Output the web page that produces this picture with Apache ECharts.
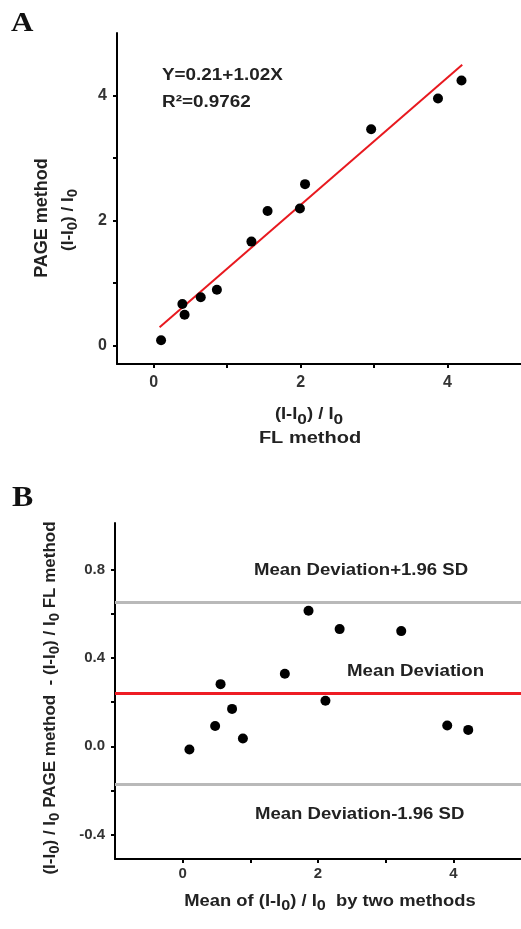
<!DOCTYPE html>
<html>
<head>
<meta charset="utf-8">
<script src="https://cdn.jsdelivr.net/npm/echarts@6/dist/echarts.min.js"></script>
<style>html,body{margin:0;padding:0;background:#fff;}#c{width:521px;height:929px;}</style>
</head>
<body>
<div id="c"></div>
<script>
// Panel A: PAGE vs FL
const flValues   = [0.10, 0.39, 0.42, 0.64, 0.86, 1.33, 1.55, 1.99, 2.06, 2.96, 3.87, 4.19];
const pageValues = [0.08, 0.66, 0.49, 0.77, 0.89, 1.66, 2.15, 2.19, 2.58, 3.46, 3.95, 4.24];
const fitLineX = [0.08, 4.20];
const fitLineY = [0.29, 4.49];
const aTicksX = [0, 1, 2, 3, 4];
const aLabelsX = [0, 2, 4];
const aTicksY = [0, 1, 2, 3, 4];
const aLabelsY = [0, 2, 4];
// Panel B: Bland-Altman
const meanValues = [0.10, 0.48, 0.56, 0.73, 0.89, 1.51, 1.86, 2.11, 2.32, 3.23, 3.91, 4.22];
const diffValues = [-0.015, 0.092, 0.281, 0.169, 0.035, 0.328, 0.613, 0.206, 0.530, 0.521, 0.094, 0.074];
const meanDeviation = 0.242;
const upperLimit = 0.652;
const lowerLimit = -0.172;
const bTicksX = [0, 1, 2, 3, 4];
const bLabelsX = [0, 2, 4];
const bTicksY = [-0.4, -0.2, 0, 0.2, 0.4, 0.6, 0.8];
const bLabelsY = [-0.4, 0, 0.4, 0.8];

const FONT = '"Liberation Sans", Arial, sans-serif';
const SERIF = '"Liberation Serif", "Times New Roman", serif';
const TXT = '#222';

const chart = echarts.init(document.getElementById('c'), null, {renderer: 'canvas'});

function axisCommon(ticks, labels, fmt, fontSize, margin) {
  return {
    axisLine: {show: true, onZero: false, lineStyle: {color: '#000', width: 2}},
    axisTick: {show: true, customValues: ticks, length: 4, lineStyle: {color: '#000', width: 2}},
    axisLabel: {show: true, customValues: labels, formatter: fmt, color: '#333', fontSize: fontSize,
                fontWeight: 'bold', fontFamily: FONT, margin: margin},
    splitLine: {show: false},
    minorTick: {show: false}
  };
}

const sub = {fontSize: 15, fontWeight: 'bold', fontFamily: FONT, fill: TXT, padding: [9, 0, 0, 0]};

const option = {
  animation: false,
  backgroundColor: '#fff',
  grid: [
    {left: 117, top: 33, width: 407, height: 331, containLabel: false},
    {left: 115, top: 523, width: 410, height: 336, containLabel: false}
  ],
  xAxis: [
    Object.assign({type: 'value', gridIndex: 0, min: -0.5, max: 5},
      axisCommon(aTicksX, aLabelsX, v => String(v), 16, 11)),
    Object.assign({type: 'value', gridIndex: 1, min: -1, max: 5},
      axisCommon(bTicksX, bLabelsX, v => String(v), 15, 7))
  ],
  yAxis: [
    Object.assign({type: 'value', gridIndex: 0, min: -0.3, max: 5},
      axisCommon(aTicksY, aLabelsY, v => String(v), 16, 10)),
    Object.assign({type: 'value', gridIndex: 1, min: -0.51, max: 1.01},
      axisCommon(bTicksY, bLabelsY, v => Number(v).toFixed(1), 15, 10))
  ],
  series: [
    {
      type: 'line', xAxisIndex: 0, yAxisIndex: 0,
      data: fitLineX.map((x, i) => [x, fitLineY[i]]),
      symbol: 'none', lineStyle: {color: '#e8191f', width: 2}, z: 2
    },
    {
      type: 'scatter', xAxisIndex: 0, yAxisIndex: 0,
      data: flValues.map((x, i) => [x, pageValues[i]]),
      symbol: 'circle', symbolSize: 10, itemStyle: {color: '#000', opacity: 1}, z: 3
    },
    {
      type: 'scatter', xAxisIndex: 1, yAxisIndex: 1,
      data: meanValues.map((x, i) => [x, diffValues[i]]),
      symbol: 'circle', symbolSize: 10, itemStyle: {color: '#000', opacity: 1}, z: 3,
      markLine: {
        silent: true, symbol: 'none', label: {show: false},
        data: [
          {yAxis: upperLimit, lineStyle: {color: '#b9b9b9', width: 3, type: 'solid'}},
          {yAxis: meanDeviation, lineStyle: {color: '#ee1c24', width: 3, type: 'solid'}},
          {yAxis: lowerLimit, lineStyle: {color: '#b9b9b9', width: 3, type: 'solid'}}
        ]
      }
    }
  ],
  graphic: [
    {type: 'text', x: 11, y: 24, style: {text: 'A', fontFamily: SERIF, fontWeight: 'bold', fontSize: 27, fill: '#111', align: 'left', verticalAlign: 'middle'}, scaleX: 1.15},
    {type: 'text', x: 12, y: 499, style: {text: 'B', fontFamily: SERIF, fontWeight: 'bold', fontSize: 29, fill: '#111', align: 'left', verticalAlign: 'middle'}, scaleX: 1.1},
    {type: 'text', x: 162, y: 76, style: {text: 'Y=0.21+1.02X', fontFamily: FONT, fontWeight: 'bold', fontSize: 16, fill: TXT, align: 'left', verticalAlign: 'middle'}, scaleX: 1.18},
    {type: 'text', x: 162, y: 103, style: {text: 'R\u00b2=0.9762', fontFamily: FONT, fontWeight: 'bold', fontSize: 16, fill: TXT, align: 'left', verticalAlign: 'middle'}, scaleX: 1.18},
    // Panel A axis titles
    {type: 'text', x: 309, y: 415, style: {text: '(I-I{s|0}) / I{s|0}', rich: {s: sub}, fontFamily: FONT, fontWeight: 'bold', fontSize: 16, fill: TXT, align: 'center', verticalAlign: 'middle'}, scaleX: 1.15},
    {type: 'text', x: 310, y: 439, style: {text: 'FL method', fontFamily: FONT, fontWeight: 'bold', fontSize: 16, fill: TXT, align: 'center', verticalAlign: 'middle'}, scaleX: 1.25},
    {type: 'text', x: 42, y: 218, rotation: Math.PI / 2, style: {text: 'PAGE method', fontFamily: FONT, fontWeight: 'bold', fontSize: 18, fill: TXT, align: 'center', verticalAlign: 'middle'}},
    {type: 'text', x: 68, y: 220, rotation: Math.PI / 2, style: {text: '(I-I{s|0}) / I{s|0}', rich: {s: sub}, fontFamily: FONT, fontWeight: 'bold', fontSize: 17, fill: TXT, align: 'center', verticalAlign: 'middle'}},
    // Panel B annotations
    {type: 'text', x: 254, y: 571, style: {text: 'Mean Deviation+1.96 SD', fontFamily: FONT, fontWeight: 'bold', fontSize: 16, fill: TXT, align: 'left', verticalAlign: 'middle'}, scaleX: 1.16},
    {type: 'text', x: 347, y: 671, style: {text: 'Mean Deviation', fontFamily: FONT, fontWeight: 'bold', fontSize: 17, fill: TXT, align: 'left', verticalAlign: 'middle'}, scaleX: 1.1},
    {type: 'text', x: 255, y: 815, style: {text: 'Mean Deviation-1.96 SD', fontFamily: FONT, fontWeight: 'bold', fontSize: 16, fill: TXT, align: 'left', verticalAlign: 'middle'}, scaleX: 1.16},
    // Panel B axis titles
    {type: 'text', x: 330, y: 901, style: {text: 'Mean of (I-I{s|0}) / I{s|0}  by two methods', rich: {s: sub}, fontFamily: FONT, fontWeight: 'bold', fontSize: 17, fill: TXT, align: 'center', verticalAlign: 'middle'}, scaleX: 1.08},
    {type: 'text', x: 50, y: 698, rotation: Math.PI / 2, style: {text: '(I-I{s|0}) / I{s|0} PAGE method  - (I-I{s|0}) / I{s|0} FL method', rich: {s: sub}, fontFamily: FONT, fontWeight: 'bold', fontSize: 17, fill: TXT, align: 'center', verticalAlign: 'middle'}}
  ]
};
chart.setOption(option);
</script>
</body>
</html>
